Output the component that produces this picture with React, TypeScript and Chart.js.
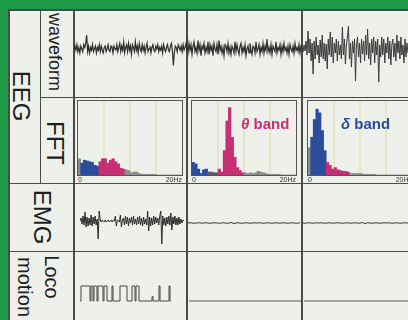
import React, { useEffect, useRef } from 'react';
import { Chart, registerables } from 'chart.js';

Chart.register(...registerables);

// ---------- DATA ----------
// FFT frequency bins (Hz, left edge of each 0.5 Hz bin)
const FFT_BIN_HZ = [
  0, 0.5, 1, 1.5, 2, 2.5, 3, 3.5, 4, 4.5, 5, 5.5, 6, 6.5, 7, 7.5, 8, 8.5, 9, 9.5,
  10, 10.5, 11, 11.5, 12, 12.5, 13, 13.5, 14, 14.5, 15, 15.5, 16, 16.5, 17, 17.5, 18, 18.5, 19, 19.5,
];
const BAND_LINE_HZ = [5, 10, 15];

// relative power per bin
const FFT_WAKE = [
  0.22, 0.16, 0.2, 0.19, 0.18, 0.17, 0.13, 0.12, 0.18, 0.22, 0.22, 0.16, 0.2, 0.22, 0.18, 0.15, 0.09, 0.08, 0.07, 0.06,
  0.03, 0.04, 0.04, 0.02, 0.01, 0.01, 0.01, 0.01, 0.01, 0.01, 0, 0, 0, 0, 0, 0, 0, 0, 0, 0,
];
const FFT_REM = [
  0.17, 0.15, 0.08, 0.02, 0.07, 0.08, 0.04, 0.04, 0.03, 0.03, 0.08, 0.04, 0.33, 0.73, 0.91, 0.51, 0.24, 0.1, 0.06, 0.03,
  0.03, 0.02, 0.03, 0.02, 0.03, 0.05, 0.04, 0.03, 0.02, 0.01, 0.01, 0.01, 0.01, 0.01, 0, 0, 0, 0, 0, 0,
];
const FFT_NREM = [
  0.37, 0.51, 0.75, 0.89, 0.84, 0.6, 0.33, 0.17, 0.13, 0.08, 0.1, 0.07, 0.06, 0.05, 0.05, 0.04, 0.02, 0.02, 0.02, 0.02,
  0.02, 0.01, 0.01, 0.01, 0.01, 0.01, 0, 0, 0, 0, 0, 0, 0, 0, 0, 0, 0, 0, 0, 0,
];
// band membership per bin: g = other, d = delta, t = theta, o = unclassified (dark)
const BAND_WAKE = 'gdddddddttttttttttgggggggggggggggggggggg';
const BAND_REM = 'ddddddoooottttttttttgggggggggggggggggggg';
const BAND_NREM = 'gddddddtttttttttgggggggggggggggggggggggg';

// EEG waveform samples (µV, relative)
const WAVE_WAKE = [
  0, 2, -1, 3, -2, 1, -3, 2, 0, -2, 3, 1, 4, 10, -2, 2, -3, 1, -1, 3,
  -2, 0, 2, -3, 1, -1, 3, -2, 2, -1, -3, 1, 2, -2, 0, 3, -1, -2, 2, 1,
  -3, 2, 0, -1, 3, -2, 1, 4, -2, 2, -1, 5, -3, 1, 3, -2, 4, -1, 2, -4,
  3, 1, -2, 5, -1, 2, -3, 4, 0, -2, 3, -1, 2, -3, 1, 4, -2, 0, 2, -3,
  1, 3, -1, -2, 2, 0, 3, -2, 1, -1, 2, -3, 3, 0, -2, 1, 3, -1, -2, 2,
  4, -1, -12, -3, 2, 1, -2, 3, 1, -1, 2, -2, 3, -1, 1, 4, -2,
];
const WAVE_REM = [
  1, -3, 4, -1, 3, -4, 2, 5, -2, 1, -3, 6, -1, 3, -5, 2, 0, 4, -3, 1,
  -2, 5, -4, 3, -1, 2, -5, 4, 0, -2, 3, -4, 6, -1, 2, -3, 1, -5, 3, 2,
  -2, 4, -3, 1, -4, 2, 0, -3, 5, -2, 3, -1, -4, 2, 4, -3, 1, -2, 3, -5,
  0, 2, -3, 4, -1, -4, 2, 1, -3, 5, -2, 0, 3, -4, 1, -2, 4, -3, 2, -1,
  7, -2, 1, -3, 3, -4, 2, 0, -2, 5, -3, 1, -1, 3, -4, 2, -2, 4, -1, 1,
  -3, 2, -4, 3, 0, -2, 2, -3, 4, -1, 1, -2, 3, -3, 2, 0,
];
const WAVE_NREM = [
  2, -3, 4, -2, 8, -6, 18, -4, 10, -12, 6, -25, 8, -10, 12, -6, 4, -14, 9, -8,
  14, -10, 6, -12, 5, -20, 10, -6, 17, -8, 12, -14, 6, -4, 10, -12, 8, -6, 4, -10,
  22, -6, 10, -15, 4, 12, 23, -10, 6, -18, 8, -4, 10, -32, 4, 12, -8, 6, -14, 10,
  -5, 8, -12, 14, -6, 20, -10, 6, -16, 10, -4, 12, -14, 8, -6, 10, -33, 4, -8, 12,
  -6, 10, -14, 6, -4, 12, -10, 8, -16, 4, 10, -8, 6, -12, 14, -4, 8, -10, 12, -6,
  4, -14, 10, -8, 6, -4,
];

// EMG samples
const EMG_WAKE = [
  0, 3, -3, 5, -4, 9, -6, 4, -5, 3, -4, 6, -5, 4, -3, 5, -4, 2, -18, 10,
  1, -1, 1, 0, -1, 1, -1, 0, 1, -1, 0, 1, -1, 1, 0, 5, -5, 1, 0, -1,
  6, -6, 1, 3, -4, 5, -3, 4, -5, 3, -2, 4, -4, 5, -3, 2, -4, 4, -3, 5,
  -4, 3, -5, 4, -3, 2, -4, 10, -10, 4, -5, 3, -4, 5, -3, 4, -2, 3, -4, 5,
  10, -23, 5, -4, 3, -5, 4, -3, 5, -4, 8, -9, 4, -3, 5, -4, 3, -4, 4, -3,
  2, -2, 1, 0,
];
const EMG_REM = [
  0, 0.5, -0.5, 0, 0.5, -0.5, 0.5, 0, -0.5, 0.5, 0, -0.5, 0.5, 0, -0.5, 1, -1, 0.5, 0, -0.5,
  0.5, 0, -0.5, 0.5, 0, 0.5, -0.5, 0, 0.5, -0.5, 0, 0.5, -0.5, 0.5, 0, -0.5, 0.5, 0, -0.5, 0.5,
];
const EMG_NREM = [
  0, -0.5, 0.5, 0, -0.5, 0.5, 0, 0.5, -0.5, 0, 0.5, -0.5, 0, 0.5, 0, -0.5, 0.5, 0, -0.5, 0.5,
  0, -0.5, 1, -1, 0.5, 0, -0.5, 0.5, 0, -0.5, 0.5, 0, 0.5, -0.5, 0, 0.5, -0.5, 0, 0.5, 0,
];

// Locomotion: event times and activity level
const LOCO_WAKE_T = [6, 7, 16, 17, 19, 20, 23, 24, 29, 30, 33, 38, 39, 46, 53, 58, 61, 62, 65, 78, 79, 85, 86, 95, 96, 97];
const LOCO_WAKE_V = [0, 1, 0, 1, 0, 1, 0, 1, 0, 1, 0, 1, 0, 1, 0, 1, 0, 1, 0, 0.3, 0, 1, 0, 1, 0, 0];
const LOCO_REM_T = [2, 113];
const LOCO_REM_V = [0, 0];
const LOCO_NREM_T = [2, 112];
const LOCO_NREM_V = [0, 0];

// ---------- STYLE ----------
const GREEN = '#1c9a45';
const PAPER = '#eef1eb';
const RULE = '#4a4a4a';
const FONT = "'Liberation Sans', Arial, Helvetica, sans-serif";
const BAND_COLORS: Record<string, string> = {
  g: '#8c8c8c',
  d: '#2c4c9c',
  t: '#c62f74',
  o: '#5a5a6a',
};

const baseOptions = (scales: any) => ({
  animation: false as const,
  responsive: false,
  maintainAspectRatio: false,
  events: [] as any[],
  layout: { padding: 0 },
  plugins: { legend: { display: false }, tooltip: { enabled: false } },
  scales,
});

function traceConfig(values: number[], min: number, max: number, color: string, width: number): any {
  return {
    type: 'line',
    data: {
      labels: values.map((_, i) => i),
      datasets: [{ data: values, borderColor: color, borderWidth: width, pointRadius: 0, tension: 0, fill: false }],
    },
    options: baseOptions({ x: { type: 'category', display: false }, y: { display: false, min, max } }),
  };
}

function locoConfig(t: number[], v: number[], color: string): any {
  return {
    type: 'line',
    data: {
      datasets: [
        {
          data: t.map((tt, i) => ({ x: tt, y: v[i] })),
          stepped: true,
          borderColor: color,
          borderWidth: 1,
          pointRadius: 0,
          fill: false,
        },
      ],
    },
    options: baseOptions({
      x: { type: 'linear', display: false, min: 0, max: 112 },
      y: { display: false, min: -1.267, max: 3.267 },
    }),
  };
}

const bandLinesPlugin = {
  id: 'bandLines',
  beforeDatasetsDraw(chart: any) {
    const { ctx, chartArea, scales } = chart;
    const xs = scales.x;
    ctx.save();
    ctx.strokeStyle = 'rgba(226,218,160,0.9)';
    ctx.lineWidth = 1.2;
    for (const hz of BAND_LINE_HZ) {
      const i = FFT_BIN_HZ.indexOf(hz);
      const px = (xs.getPixelForValue(i - 1) + xs.getPixelForValue(i)) / 2;
      ctx.beginPath();
      ctx.moveTo(px, chartArea.top);
      ctx.lineTo(px, chartArea.bottom);
      ctx.stroke();
    }
    ctx.restore();
  },
};

function fftConfig(values: number[], bands: string): any {
  return {
    type: 'bar',
    data: {
      labels: FFT_BIN_HZ.map(String),
      datasets: [
        {
          data: values,
          backgroundColor: values.map((_, i) => BAND_COLORS[bands[i]]),
          borderWidth: 0,
          barPercentage: 1,
          categoryPercentage: 1,
        },
      ],
    },
    options: baseOptions({ x: { display: false }, y: { display: false, min: 0, max: 1 } }),
    plugins: [bandLinesPlugin],
  };
}

// ---------- COMPONENTS ----------
function ChartCanvas({ x, y, w, h, make }: { x: number; y: number; w: number; h: number; make: () => any }) {
  const ref = useRef<HTMLCanvasElement>(null);
  useEffect(() => {
    const chart = new Chart(ref.current as HTMLCanvasElement, make());
    return () => chart.destroy();
  }, []);
  return (
    <canvas
      ref={ref}
      width={w}
      height={h}
      style={{ position: 'absolute', left: x, top: y, width: w, height: h }}
    />
  );
}

function Rule({ x, y, w, h, c = RULE }: { x: number; y: number; w: number; h: number; c?: string }) {
  return <div style={{ position: 'absolute', left: x, top: y, width: w, height: h, background: c }} />;
}

function VText({ cx, cy, size, text }: { cx: number; cy: number; size: number; text: string }) {
  return (
    <div
      style={{
        position: 'absolute',
        left: cx,
        top: cy,
        transform: 'translate(-50%, -50%) rotate(90deg)',
        fontSize: size,
        lineHeight: 1,
        whiteSpace: 'nowrap',
        color: '#1e1e1e',
        fontFamily: FONT,
      }}
    >
      {text}
    </div>
  );
}

function FftPanel({ x, values, bands }: { x: number; values: number[]; bands: string }) {
  const top = 100;
  const w = 106;
  const h = 76;
  return (
    <>
      <div
        style={{
          position: 'absolute',
          left: x,
          top,
          width: w - 2,
          height: h - 2,
          border: '1px solid #555',
        }}
      />
      <ChartCanvas x={x + 1} y={top + 1} w={w - 2} h={h - 2} make={() => fftConfig(values, bands)} />
      <div style={{ position: 'absolute', left: x + 1, top: 176, fontSize: 7, lineHeight: 1, color: '#333', fontFamily: FONT }}>0</div>
      <div
        style={{
          position: 'absolute',
          left: x + w - 30,
          width: 29,
          textAlign: 'right',
          top: 176,
          fontSize: 7,
          lineHeight: 1,
          color: '#333',
          fontFamily: FONT,
        }}
      >
        20Hz
      </div>
    </>
  );
}

export default function App() {
  return (
    <div
      style={{
        position: 'absolute',
        left: 0,
        top: 0,
        width: 408,
        height: 320,
        overflow: 'hidden',
        background: GREEN,
        fontFamily: FONT,
      }}
    >
      <div style={{ position: 'absolute', left: 8, top: 9, width: 420, height: 330, background: PAPER }} />

      {/* grid rules */}
      <Rule x={8} y={9} w={400} h={2} />
      <Rule x={8} y={9} w={1.5} h={311} />
      <Rule x={40} y={9} w={1} h={174} />
      <Rule x={73} y={9} w={1.5} h={311} />
      <Rule x={186} y={9} w={1.5} h={311} />
      <Rule x={301} y={9} w={1.5} h={311} />
      <Rule x={40} y={96.5} w={368} h={1.5} />
      <Rule x={8} y={182.5} w={400} h={1.5} />
      <Rule x={8} y={250.5} w={400} h={1.5} />

      {/* row labels */}
      <VText cx={21} cy={96} size={24} text="EEG" />
      <VText cx={55} cy={52} size={18} text="waveform" />
      <VText cx={55} cy={143} size={24} text="FFT" />
      <VText cx={42} cy={217} size={24} text="EMG" />
      <VText cx={52} cy={277} size={20} text="Loco" />
      <VText cx={25} cy={287} size={20} text="motion" />

      {/* EEG waveforms */}
      <ChartCanvas x={74} y={10} w={113} h={86} make={() => traceConfig(WAVE_WAKE, -34, 28, '#2e2e2e', 1.2)} />
      <ChartCanvas x={187} y={10} w={115} h={86} make={() => traceConfig(WAVE_REM, -34, 28, '#2e2e2e', 1.2)} />
      <ChartCanvas x={302} y={10} w={106} h={86} make={() => traceConfig(WAVE_NREM, -47, 39, '#3a3a3a', 1)} />

      {/* FFT */}
      <FftPanel x={77} values={FFT_WAKE} bands={BAND_WAKE} />
      <FftPanel x={191} values={FFT_REM} bands={BAND_REM} />
      <FftPanel x={307} values={FFT_NREM} bands={BAND_NREM} />
      <div style={{ position: 'absolute', left: 241, top: 116, fontSize: 15, fontWeight: 'bold', lineHeight: 1, color: '#c62f74', fontFamily: FONT, whiteSpace: 'nowrap' }}>
        <span style={{ fontStyle: 'italic' }}>θ</span> band
      </div>
      <div style={{ position: 'absolute', left: 341, top: 116, fontSize: 15, fontWeight: 'bold', lineHeight: 1, color: '#2c4c9c', fontFamily: FONT, whiteSpace: 'nowrap' }}>
        <span style={{ fontStyle: 'italic' }}>δ</span> band
      </div>

      {/* EMG */}
      <ChartCanvas x={80} y={184} w={104} h={66} make={() => traceConfig(EMG_WAKE, -29, 37, '#2a2a2a', 1)} />
      <ChartCanvas x={188} y={184} w={112} h={66} make={() => traceConfig(EMG_REM, -54, 78, '#333', 1)} />
      <ChartCanvas x={303} y={184} w={105} h={66} make={() => traceConfig(EMG_NREM, -54, 78, '#333', 1)} />

      {/* Locomotion */}
      <ChartCanvas x={74} y={252} w={112} h={68} make={() => locoConfig(LOCO_WAKE_T, LOCO_WAKE_V, '#444')} />
      <ChartCanvas x={187} y={252} w={114} h={68} make={() => locoConfig(LOCO_REM_T, LOCO_REM_V, '#555')} />
      <ChartCanvas x={302} y={252} w={106} h={68} make={() => locoConfig(LOCO_NREM_T, LOCO_NREM_V, '#555')} />
    </div>
  );
}
